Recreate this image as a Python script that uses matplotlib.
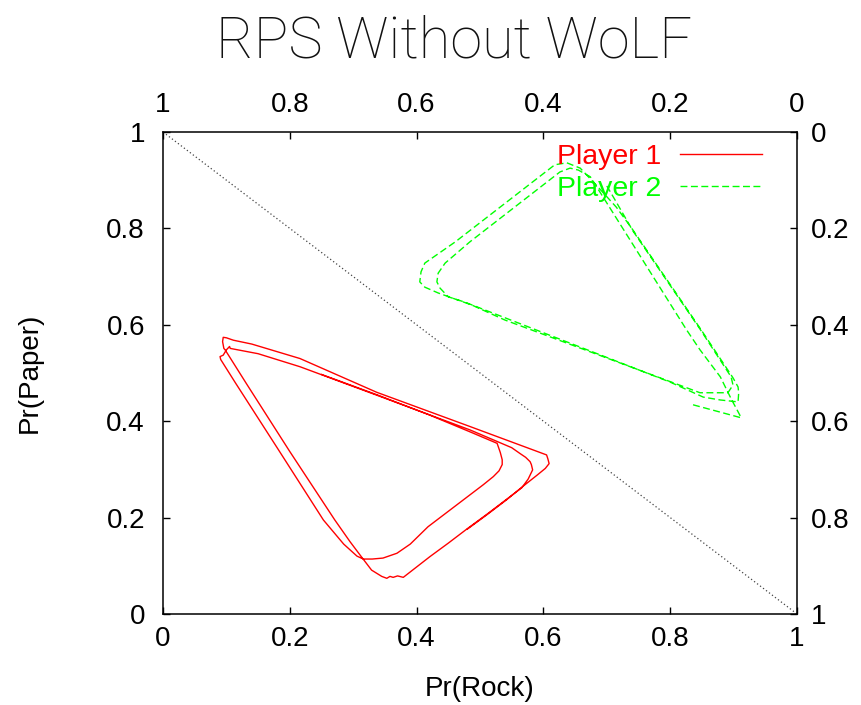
"""
RPS 自我對局軌跡：兩位玩家的混合策略 (Pr(Rock), Pr(Paper))。
Player 2 畫在上/右反向座標軸上。
"""

import matplotlib
matplotlib.use("Agg")
import matplotlib.pyplot as plt

plt.rcParams["font.family"] = ["Liberation Sans", "DejaVu Sans"]

# Player 1 軌跡（下/左座標軸）
p1_rock = [0.480, 0.510, 0.542, 0.565, 0.590, 0.603, 0.609, 0.607, 0.605,
           0.484, 0.337, 0.216, 0.140, 0.111, 0.100, 0.095, 0.094, 0.096, 0.098,
           0.132, 0.200, 0.271, 0.295, 0.311, 0.329, 0.345, 0.353, 0.358, 0.363,
           0.370, 0.379, 0.421,
           0.450, 0.480, 0.512, 0.545, 0.566, 0.576, 0.583, 0.581, 0.579, 0.572,
           0.563, 0.550, 0.484, 0.337, 0.216, 0.150, 0.106, 0.105, 0.100, 0.095,
           0.090, 0.091,
           0.114, 0.180, 0.253, 0.285, 0.306, 0.316, 0.330, 0.347, 0.369, 0.390,
           0.418, 0.470, 0.505, 0.521, 0.530, 0.535, 0.535, 0.532, 0.527,
           0.484, 0.420, 0.337, 0.250]
p1_paper = [0.176, 0.205, 0.237, 0.262, 0.288, 0.302, 0.312, 0.322, 0.330,
            0.389, 0.460, 0.530, 0.560, 0.568, 0.573, 0.574, 0.565, 0.551, 0.548,
            0.477, 0.337, 0.195, 0.150, 0.122, 0.091, 0.078, 0.074, 0.078, 0.076,
            0.079, 0.076, 0.119,
            0.147, 0.177, 0.208, 0.241, 0.262, 0.280, 0.299, 0.310, 0.316, 0.325,
            0.333, 0.345, 0.382, 0.454, 0.513, 0.540, 0.551, 0.555, 0.548, 0.537,
            0.534, 0.528,
            0.480, 0.345, 0.195, 0.145, 0.120, 0.114, 0.114, 0.116, 0.126, 0.145,
            0.181, 0.233, 0.268, 0.285, 0.297, 0.310, 0.320, 0.335, 0.354,
            0.378, 0.413, 0.455, 0.497]

# Player 2 軌跡（上/右座標軸，方向反轉）
p2_rock = [0.164, 0.088, 0.096, 0.103, 0.121, 0.153, 0.174, 0.303, 0.326,
           0.345, 0.358, 0.374, 0.516, 0.555, 0.566, 0.568, 0.563, 0.550, 0.524,
           0.200, 0.148, 0.121, 0.093, 0.092, 0.093, 0.101, 0.153, 0.259, 0.285,
           0.314, 0.342, 0.363, 0.382, 0.539, 0.587, 0.593, 0.595, 0.587, 0.566,
           0.513, 0.461, 0.153, 0.132, 0.109, 0.101, 0.104, 0.153, 0.259, 0.287,
           0.300]
p2_paper = [0.566, 0.593, 0.573, 0.556, 0.508, 0.452, 0.411, 0.141, 0.093,
            0.079, 0.075, 0.083, 0.228, 0.272, 0.293, 0.311, 0.324, 0.342, 0.353,
            0.519, 0.550, 0.556, 0.560, 0.541, 0.529, 0.510, 0.407, 0.203, 0.156,
            0.114, 0.075, 0.064, 0.068, 0.228, 0.272, 0.290, 0.311, 0.322, 0.334,
            0.359, 0.390, 0.541, 0.541, 0.541, 0.525, 0.508, 0.409, 0.205, 0.141,
            0.112]

tick_vals = [0, 0.2, 0.4, 0.6, 0.8, 1]
tick_labels = ["0", "0.2", "0.4", "0.6", "0.8", "1"]


def main():
    fig = plt.figure(figsize=(8.61, 7.05), dpi=100)
    ax = fig.add_axes([0.1893, 0.1291, 0.7364, 0.6837])
    ax.set_xlim(0, 1)
    ax.set_ylim(0, 1)
    ax.set_xticks(tick_vals, tick_labels)
    ax.set_yticks(tick_vals, tick_labels)
    ax.tick_params(direction="in", length=5, width=1, labelsize=20,
                   top=False, right=False)
    ax.tick_params(axis="x", pad=9)
    ax.tick_params(axis="y", pad=13)
    for s in ax.spines.values():
        s.set_linewidth(1.1)
    ax.set_xlabel("Pr(Rock)", fontsize=20, labelpad=17)
    ax.set_ylabel("Pr(Paper)", fontsize=20, labelpad=46)

    # 對角線 Pr(Rock)+Pr(Paper)=1
    ax.plot([0, 1], [1, 0], color="#444444", lw=0.9, ls=(0, (1, 2)))
    l1, = ax.plot(p1_rock, p1_paper, color="#ff0000", lw=1.0, label="Player 1")

    # 第二組座標軸：上/右，反向
    ax2 = fig.add_axes(ax.get_position(), frameon=False)
    ax2.patch.set_visible(False)
    ax2.set_xlim(1, 0)
    ax2.set_ylim(1, 0)
    ax2.xaxis.tick_top()
    ax2.yaxis.tick_right()
    ax2.set_xticks(tick_vals, tick_labels)
    ax2.set_yticks(tick_vals, tick_labels)
    ax2.tick_params(direction="in", length=5, width=1, labelsize=20)
    ax2.tick_params(axis="x", pad=10)
    ax2.tick_params(axis="y", pad=10)
    l2, = ax2.plot(p2_rock, p2_paper, color="#00ff00", lw=1.0,
                   dashes=(5, 2.5), label="Player 2")

    ax2.legend(handles=[l1, l2], loc="upper right", bbox_to_anchor=(0.945, 0.975),
               frameon=False, markerfirst=False, fontsize=20.5, labelcolor="linecolor",
               handlelength=2.9, handletextpad=0.65, labelspacing=0.22,
               borderpad=0, borderaxespad=0)

    fig.text(0.527, 0.918, "RPS Without WoLF", ha="center", va="baseline",
             fontsize=41.5, family="Roboto", fontweight="light", color="#111111")

    fig.savefig("out.png", dpi=100)


if __name__ == "__main__":
    main()
